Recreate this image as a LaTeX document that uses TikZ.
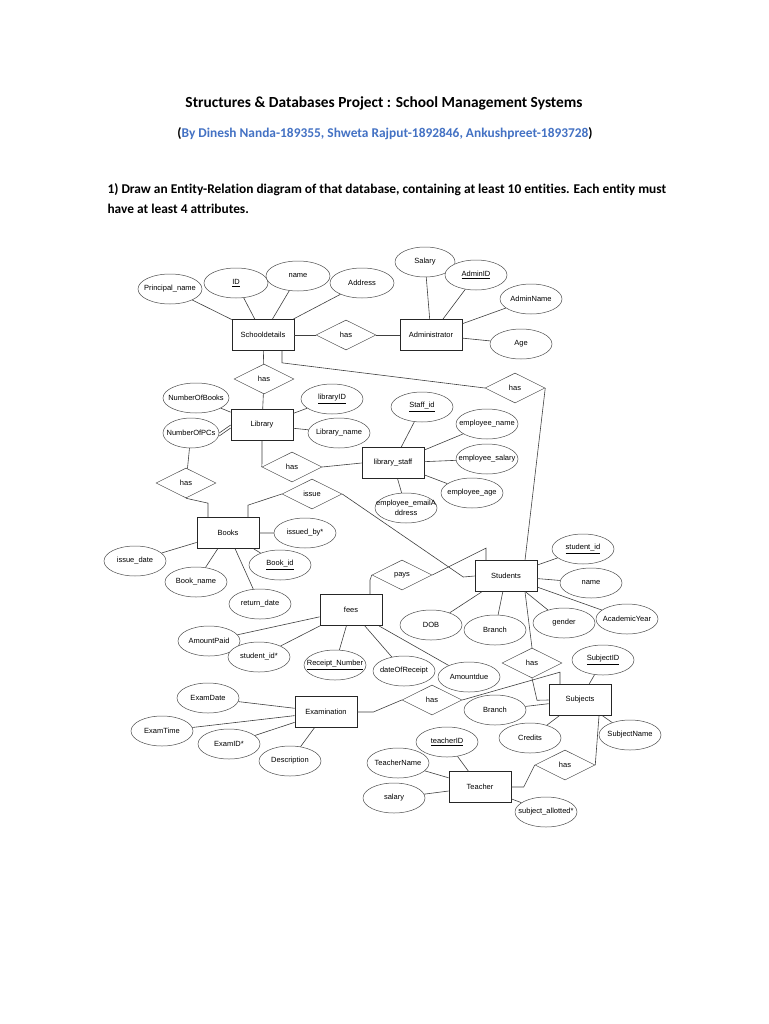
\documentclass[tikz,border=0pt]{standalone}
\usepackage{fontspec}
\setmainfont{Liberation Sans}
\newfontfamily\headfont[Ligatures=NoCommon]{Carlito}
\usetikzlibrary{shapes.geometric}
\definecolor{byblue}{RGB}{68,114,196}
\newcommand{\lbl}[1]{\makebox[0pt]{#1}}

\begin{document}
\begin{tikzpicture}[x=1pt, y=-1pt,
        font=\fontsize{7.5}{8.8}\selectfont,
        ent/.style={rectangle, draw=black!85, line width=0.7pt, fill=white,
                    minimum width=62pt, minimum height=31pt, inner sep=0pt},
        attr/.style={ellipse, draw=black!70, line width=0.5pt, fill=white,
                     minimum width=62pt, minimum height=30pt, inner sep=0pt},
        rel/.style={diamond, aspect=2, draw=black!70, line width=0.5pt, fill=white,
                    minimum width=60pt, minimum height=30pt, inner sep=0pt},
        ln/.style={draw=black!75, line width=0.6pt},
        head/.style={font=\headfont\bfseries\fontsize{13.4}{16}\selectfont}]
      \fill[white] (0,0) rectangle (768,1024);
      \useasboundingbox (0,0) rectangle (768,1024);

      \node[head, font=\headfont\bfseries\fontsize{15.4}{18}\selectfont] (title) at (384,103) {Structures \& Databases Project : School Management Systems};
      \node[head] (authors) at (385,134) {(\textcolor{byblue}{By Dinesh Nanda-189355, Shweta Rajput-1892846, Ankushpreet-1893728})};
      \node[head, anchor=west] (task1) at (104,190) {1) Draw an Entity-Relation diagram of that database, containing at least 10 entities. Each entity must};
      \node[head, anchor=west] (task2) at (104,209) {have at least 4 attributes.};

      \node[ent] (sd) at (263,335) {Schooldetails};
      \node[ent] (adm) at (431,335) {Administrator};
      \node[ent] (lib) at (262,425) {Library};
      \node[ent] (staff) at (393,463) {library\_staff};
      \node[ent] (books) at (228,533) {Books};
      \node[ent] (stud) at (506,576) {Students};
      \node[ent] (fees) at (351,610) {fees};
      \node[ent] (subj) at (580,700) {Subjects};
      \node[ent] (exam) at (326,712) {Examination};
      \node[ent] (teach) at (480,787) {Teacher};

      \node[rel] (hasA) at (346,335) {has};
      \node[rel] (hasL) at (264,379) {has};
      \node[rel] (hasB) at (186,483) {has};
      \node[rel] (hasLS) at (292,467) {has};
      \node[rel] (hasS) at (515,388) {has};
      \node[rel] (issue) at (312,494) {issue};
      \node[rel] (pays) at (402,575) {pays};
      \node[rel] (hasE) at (432,700) {has};
      \node[rel] (hasSS) at (532,663) {has};
      \node[rel] (hasT) at (565,765) {has};

      \node[attr, minimum width=64pt] (pname) at (170,289) {\lbl{Principal\_name}};
      \node[attr, minimum width=64pt] (sdid) at (236,283) {\lbl{\underline{ID}}};
      \node[attr, minimum width=64pt] (sdname) at (298,276) {\lbl{name}};
      \node[attr, minimum width=64pt] (addr) at (362,283) {\lbl{Address}};
      \node[attr, minimum width=60pt] (asal) at (425,262) {\lbl{Salary}};
      \node[attr] (aid) at (476,275) {\lbl{\underline{AdminID}}};
      \node[attr] (aname) at (531,299) {\lbl{AdminName}};
      \node[attr] (age) at (521,344) {\lbl{Age}};

      \node[attr, minimum width=66pt] (nbooks) at (196,398) {\lbl{NumberOfBooks}};
      \node[attr] (libid) at (332,399) {\lbl{\underline{libraryID}}};
      \node[attr, minimum width=56pt] (pcs) at (191,433) {\lbl{NumberOfPCs}};
      \node[attr] (libname) at (339,433) {\lbl{Library\_name}};

      \node[attr] (stid) at (422,407) {\lbl{\underline{Staff\_id}}};
      \node[attr] (ename) at (487,424) {\lbl{employee\_name}};
      \node[attr] (esal) at (487,459) {\lbl{employee\_salary}};
      \node[attr] (eage) at (472,493) {\lbl{employee\_age}};
      \node[attr] (email) at (406,508) {\lbl{\shortstack{employee\_emailA\\ddress}}};

      \node[attr] (issby) at (305,533) {\lbl{issued\_by*}};
      \node[attr] (issdate) at (135,561) {\lbl{issue\_date}};
      \node[attr] (bookid) at (280,565) {\lbl{\underline{Book\_id}}};
      \node[attr] (bname) at (196,582) {\lbl{Book\_name}};
      \node[attr] (retdate) at (260,604) {\lbl{return\_date}};

      \node[attr] (sid) at (583,549) {\lbl{\underline{student\_id}}};
      \node[attr] (sname) at (591,583) {\lbl{name}};
      \node[attr] (acyear) at (627,619) {\lbl{AcademicYear}};
      \node[attr] (gender) at (564,623) {\lbl{gender}};
      \node[attr] (dob) at (431,625) {\lbl{DOB}};
      \node[attr] (sbranch) at (495,630) {\lbl{Branch}};

      \node[attr] (apaid) at (209,641) {\lbl{AmountPaid}};
      \node[attr] (fsid) at (259,657) {\lbl{student\_id*}};
      \node[attr] (rnum) at (335,665) {\lbl{\underline{Receipt\_Number}}};
      \node[attr] (rdate) at (404,671) {\lbl{dateOfReceipt}};
      \node[attr] (adue) at (469,677) {\lbl{Amountdue}};

      \node[attr] (subid) at (603,660) {\lbl{\underline{SubjectID}}};
      \node[attr] (jbranch) at (495,710) {\lbl{Branch}};
      \node[attr] (subname) at (630,735) {\lbl{SubjectName}};
      \node[attr] (credits) at (530,738) {\lbl{Credits}};

      \node[attr] (edate) at (208,698) {\lbl{ExamDate}};
      \node[attr] (etime) at (162,731) {\lbl{ExamTime}};
      \node[attr] (eid) at (229,744) {\lbl{ExamID*}};
      \node[attr] (desc) at (290,761) {\lbl{Description}};

      \node[attr] (tid) at (447,742) {\lbl{\underline{teacherID}}};
      \node[attr] (tname) at (398,763) {\lbl{TeacherName}};
      \node[attr] (tsal) at (394,798) {\lbl{salary}};
      \node[attr] (suball) at (546,812) {\lbl{subject\_allotted*}};

      \draw[ln] (sd) -- (pname) (sd) -- (sdid) (sd) -- (sdname) (sd) -- (addr);
      \draw[ln] (adm) -- (asal) (adm) -- (aid) (adm) -- (aname) (adm) -- (age);
      \draw[ln] (lib) -- (nbooks) (lib) -- (libid) (lib) -- (libname);
      \draw[ln] (lib.west) -- (pcs.east);
      \draw[ln] ([yshift=-3pt]lib.west) -- ([yshift=-3pt]pcs.east);
      \draw[ln] (staff) -- (stid) (staff) -- (ename) (staff) -- (esal) (staff) -- (eage) (staff) -- (email);
      \draw[ln] (books) -- (issby) (books) -- (issdate) (books) -- (bookid) (books) -- (bname) (books) -- (retdate);
      \draw[ln] (stud) -- (sid) (stud) -- (sname) (stud) -- (acyear) (stud) -- (gender) (stud) -- (dob) (stud) -- (sbranch);
      \draw[ln] (fees) -- (apaid) (fees) -- (fsid) (fees) -- (rnum) (fees) -- (rdate) (fees) -- (adue);
      \draw[ln] (subj) -- (subid) (subj) -- (jbranch) (subj) -- (subname) (subj) -- (credits);
      \draw[ln] (exam) -- (edate) (exam) -- (etime) (exam) -- (eid) (exam) -- (desc);
      \draw[ln] (teach) -- (tid) (teach) -- (tname) (teach) -- (tsal) (teach) -- (suball);

      \draw[ln] (sd) -- (hasA) -- (adm);
      \draw[ln] (sd) -- (hasL) -- (lib);
      \draw[ln] ([xshift=19pt]sd.south) -- ++(0,12) -- (hasS.west);
      \draw[ln] (hasS.east) -- ([xshift=19pt]stud.north);
      \draw[ln] (pcs) -- (hasB);
      \draw[ln] (hasB.south) -- ([xshift=-20pt,yshift=14pt]books.north) -- ([xshift=-20pt]books.north);
      \draw[ln] (lib.south) -- ++(0,22) -- (hasLS.west);
      \draw[ln] (hasLS.east) -- (staff.west);
      \draw[ln] ([xshift=20pt]books.north) -- ++(0,-12) -- (issue.west);
      \draw[ln] (issue.east) -- ++(121,83) -- (stud.west);
      \draw[ln] ([xshift=19pt]fees.north) -- ++(0,-14) -- (pays.west);
      \draw[ln] (pays.east) -- ([xshift=-20pt,yshift=12pt]stud.north) -- ([xshift=-20pt]stud.north);
      \draw[ln] ([xshift=19pt]stud.south) -- (hasSS.north);
      \draw[ln] (hasSS.south) -- ++(5,22) -- (subj.west);
      \draw[ln] (exam.east) -- ++(16,0) -- (hasE.west);
      \draw[ln] (hasE.east) -- ([xshift=-20pt,yshift=12pt]subj.north) -- ([xshift=-20pt]subj.north);
      \draw[ln] ([xshift=19pt]subj.south) -- (hasT.east);
      \draw[ln] (hasT.west) -- ++(-11,22) -- (teach.east);
    \end{tikzpicture}
\end{document}
